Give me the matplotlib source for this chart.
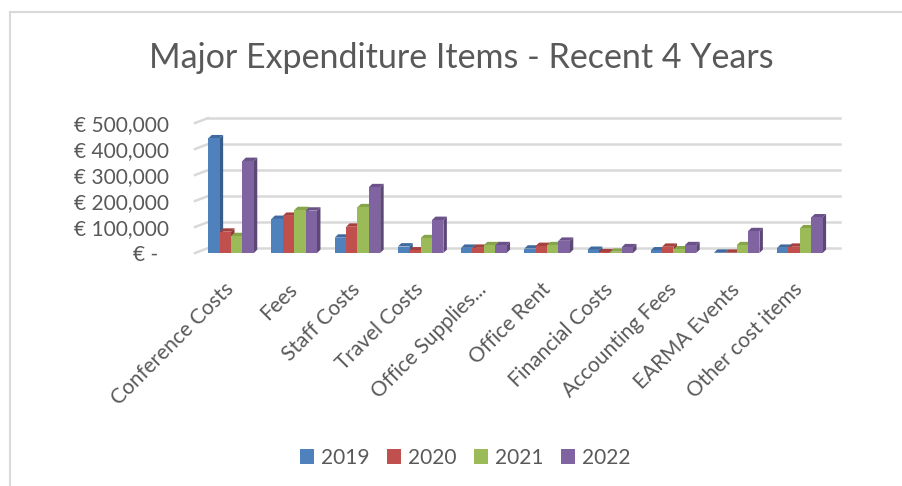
import matplotlib
matplotlib.use("Agg")
import matplotlib.pyplot as plt
from matplotlib.patches import Polygon, Patch
from matplotlib.lines import Line2D

plt.rcParams['font.family'] = ['Lato', 'DejaVu Sans']

# data
categories = ["Conference Costs", "Fees", "Staff Costs", "Travel Costs",
              "Office Supplies...", "Office Rent", "Financial Costs",
              "Accounting Fees", "EARMA Events", "Other cost items"]
years = ["2019", "2020", "2021", "2022"]
v2019 = [441000, 131000, 59000, 25000, 20000, 17000, 12000, 10000, 1000, 20000]
v2020 = [82000, 143000, 101000, 10000, 20000, 27000, 3000, 24000, 1000, 24000]
v2021 = [65000, 165000, 176000, 57000, 30000, 30000, 5000, 14000, 30000, 95000]
v2022 = [354000, 163000, 253000, 127000, 30000, 47000, 22000, 30000, 84000, 137000]
yticks = [0, 100000, 200000, 300000, 400000, 500000]
ytick_labels = ["€ -  ", "€ 100,000", "€ 200,000", "€ 300,000", "€ 400,000", "€ 500,000"]

series = [v2019, v2020, v2021, v2022]
front = ["#4F81BD", "#C0504D", "#9BBB59", "#8064A2"]
side = ["#385D8A", "#8C3836", "#71893F", "#5C4776"]
top = ["#3F6AA0", "#A5403D", "#86A44A", "#6A5289"]
text_col = "#595959"

fig = plt.figure(figsize=(9.02, 4.86), dpi=100)
ax = fig.add_axes([0.2162, 0.4794, 0.7007, 0.2675])

xlim = (-0.57, 9.43)
ax.set_xlim(*xlim)
ax.set_ylim(0, 500000)

# back wall gridlines (shifted back in depth)
wall_dx, wall_dy = 0.206, 19000
for v in yticks:
    ax.plot([xlim[0] + wall_dx, xlim[1] + wall_dx], [v + wall_dy] * 2,
            color="#D9D9D9", lw=1.8, clip_on=False, zorder=0)
    ax.plot([xlim[0], xlim[0] + wall_dx], [v, v + wall_dy],
            color="#D9D9D9", lw=1.8, clip_on=False, zorder=0)

# 3d-looking columns
bw = 0.18
dx, dy = 0.055, 13000
for s, vals in enumerate(series):
    xs = [i - 1.5 * bw + s * bw for i in range(len(categories))]
    ax.bar(xs, vals, width=bw, color=front[s], zorder=3 + 2 * s, linewidth=0)
    for x, h in zip(xs, vals):
        xr = x + bw / 2
        xl = x - bw / 2
        ax.add_patch(Polygon([(xr, 0), (xr, h), (xr + dx, h + dy), (xr + dx, dy)],
                             closed=True, fc=side[s], ec="none",
                             zorder=2 + 2 * s, clip_on=False))
        ax.add_patch(Polygon([(xl, h), (xr, h), (xr + dx, h + dy), (xl + dx, h + dy)],
                             closed=True, fc=top[s], ec="none",
                             zorder=2 + 2 * s, clip_on=False))

for sp in ax.spines.values():
    sp.set_visible(False)
ax.set_yticks(yticks)
ax.set_yticklabels(ytick_labels, fontsize=15, color=text_col)
ax.tick_params(axis="y", length=0, pad=19)
ax.set_xticks(range(len(categories)))
ax.set_xticklabels(categories, rotation=45, ha="right", va="center",
                   rotation_mode="anchor", fontsize=15, color=text_col)
ax.tick_params(axis="x", length=0, pad=24)
ax.patch.set_visible(False)

fig.suptitle("Major Expenditure Items - Recent 4 Years", x=461 / 902, y=1 - 58 / 486,
             va="center", fontsize=24.5, color=text_col)

handles = [Patch(facecolor=c, edgecolor="none") for c in front]
fig.legend(handles, years, loc="center", bbox_to_anchor=(465 / 902, 1 - 458 / 486),
           ncol=4, frameon=False, fontsize=15, labelcolor=text_col,
           handlelength=0.7, handleheight=0.7, handletextpad=0.3, columnspacing=0.85)

# chart border (cropped at right and bottom)
fig.add_artist(Line2D([10 / 902, 1.0], [1 - 12 / 486] * 2, color="#D9D9D9", lw=1.5))
fig.add_artist(Line2D([10 / 902] * 2, [0.0, 1 - 12 / 486], color="#D9D9D9", lw=1.5))

fig.savefig("out.png", dpi=100)
